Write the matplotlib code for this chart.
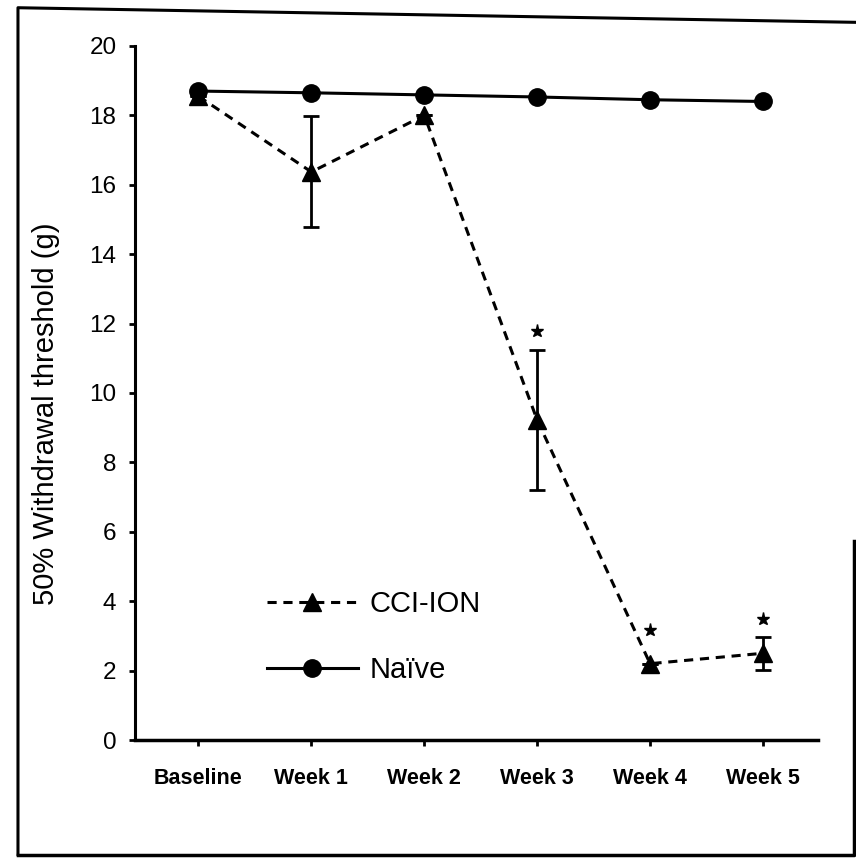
import matplotlib.pyplot as plt
from matplotlib.lines import Line2D

# data
timepoints = ["Baseline", "Week 1", "Week 2", "Week 3", "Week 4", "Week 5"]
naive_mean = [18.7, 18.65, 18.59, 18.53, 18.45, 18.4]
cci_mean = [18.55, 16.37, 18.0, 9.22, 2.2, 2.5]
cci_err = [0.0, 1.6, 0.0, 2.02, 0.0, 0.48]
star_y = [None, None, None, 11.8, 3.17, 3.5]

plt.rcParams["font.family"] = ["Liberation Sans", "DejaVu Sans"]

fig = plt.figure(figsize=(8.56, 8.59), dpi=100)

# frame of the scanned page
fig.add_artist(Line2D([0.021, 0.021, 1.0], [0.005, 0.991, 0.974],
                      transform=fig.transFigure, color="black", lw=2.2))
fig.add_artist(Line2D([0.021, 0.998, 0.998], [0.005, 0.005, 0.37],
                      transform=fig.transFigure, color="black", lw=2.5))

ax = fig.add_axes([0.158, 0.1385, 0.798, 0.808])
x = list(range(len(timepoints)))

ax.plot(x, naive_mean, color="black", lw=2.2, marker="o", ms=12.5, zorder=3)
ax.errorbar(x, cci_mean, yerr=cci_err, color="black", lw=2.2, ls=(0, (3, 2.2)),
            marker="^", ms=12.5, elinewidth=2, capsize=6, capthick=2, zorder=4)

for xi, sy in zip(x, star_y):
    if sy is not None:
        ax.plot(xi, sy, marker="*", color="black", ms=9.5, ls="none")

ax.set_xlim(-0.56, 5.49)
ax.set_ylim(0, 20)
ax.set_yticks(range(0, 21, 2))
ax.set_xticks(x)
ax.set_xticklabels(timepoints)
ax.spines["top"].set_visible(False)
ax.spines["right"].set_visible(False)
ax.spines["left"].set_linewidth(2.2)
ax.spines["bottom"].set_linewidth(2.5)
ax.tick_params(axis="y", direction="out", length=4.5, width=2, labelsize=17.5, pad=9)
ax.tick_params(axis="x", direction="out", length=4, width=2, labelsize=15.5, pad=16)
for lab in ax.get_xticklabels():
    lab.set_fontweight("bold")
ax.set_ylabel("50% Withdrawal threshold (g)", fontsize=21)
ax.yaxis.set_label_coords(-0.11, 0.47)

handles = [
    Line2D([], [], color="black", lw=2.2, ls=(0, (3, 2.2)), marker="^", ms=12.5),
    Line2D([], [], color="black", lw=2.2, marker="o", ms=12.5),
]
ax.legend(handles, ["CCI-ION", "Naïve"], loc="center left", bbox_to_anchor=(0.176, 0.148),
          frameon=False, fontsize=21, handlelength=3.1, labelspacing=1.3,
          handletextpad=0.4, borderaxespad=0)

fig.savefig("out.png", dpi=100)
